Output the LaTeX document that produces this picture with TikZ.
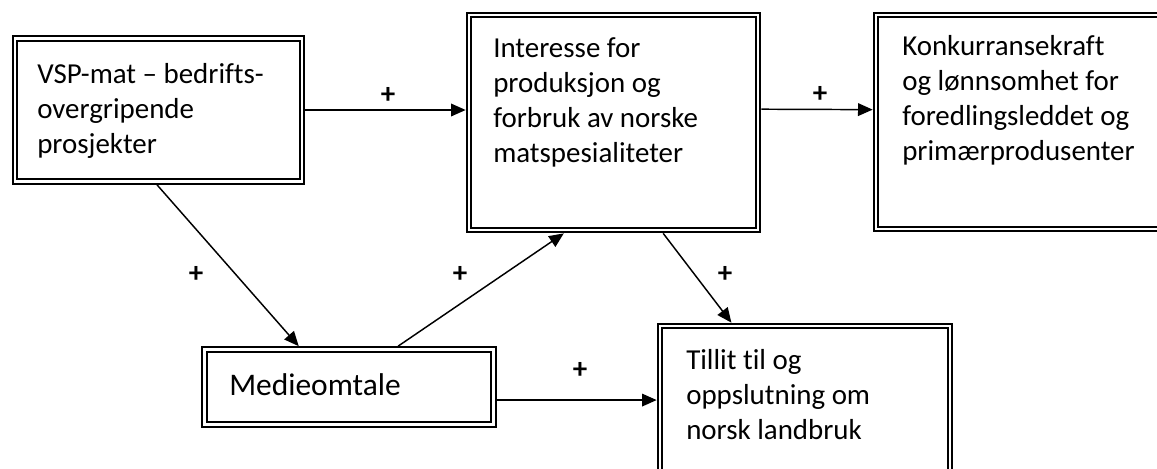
\documentclass[tikz,border=0pt]{standalone}
\usepackage{fontspec}
\setmainfont{Carlito}[Ligatures=NoCommon]
\usetikzlibrary{arrows.meta,calc}

\tikzset{
  dblbox/.style={draw, double, line width=1.5pt, double distance=2pt,
    outer sep=2.5pt, inner sep=0pt, rectangle},
  boxtext/.style={anchor=base west, align=left, inner sep=0pt,
    font=\fontsize{21.7}{26.25}\selectfont},
  plus/.style={inner sep=0pt, font=\fontsize{21.7}{26}\selectfont\bfseries},
  arr/.style={-{Triangle[length=11pt,width=9.5pt]}, line width=1.1pt},
}

\begin{document}
\begin{tikzpicture}[x=0.75pt,y=-0.75pt]
  \path[fill=white] (0,0) rectangle (1157,468);
  \clip (0,0) rectangle (1157,468);

  % boxes
  \node[dblbox, minimum width=215.25pt, minimum height=107.25pt] (b1) at (158.5,110) {};
  \node[dblbox, minimum width=216.75pt, minimum height=161.25pt] (b2) at (613.5,122.5) {};
  \node[dblbox, minimum width=231.75pt, minimum height=160.5pt] (b3) at (1030.5,122) {};
  \node[dblbox, minimum width=216.75pt, minimum height=56.25pt] (b4) at (349,387) {};
  \node[dblbox, minimum width=217.5pt, minimum height=130.5pt] (b5) at (805,413) {};

  % box texts (anchored at the baseline of the last line)
  \node[boxtext] (t1) at (37,153) {VSP-mat – bedrifts-\\overgripende\\prosjekter};
  \node[boxtext] (t2) at (493,162) {Interesse for\\produksjon og\\forbruk av norske\\matspesialiteter};
  \node[boxtext] (t3) at (902,160) {Konkurransekraft\\og lønnsomhet for\\foredlingsleddet og\\primærprodusenter};
  \node[boxtext, font=\fontsize{23.6}{28}\selectfont] (t4) at (229,395) {Medieomtale};
  \node[boxtext] (t5) at (686,439) {Tillit til og\\oppslutning om\\norsk landbruk};

  % connectors
  \draw[arr] (b1.east) -- (b1.east -| b2.west);
  \draw[arr] ($(b2.north east)!0.44!(b2.south east)$) -- ($(b3.north west)!0.444!(b3.south west)$);
  \draw[arr] ($(b1.south west)!0.495!(b1.south east)$) -- ($(b4.north west)!0.33!(b4.north east)$);
  \draw[arr] ($(b4.north west)!0.666!(b4.north east)$) -- ($(b2.south west)!0.332!(b2.south east)$);
  \draw[arr] ($(b2.south west)!0.668!(b2.south east)$) -- ($(b5.north west)!0.252!(b5.north east)$);
  \coordinate (m6) at ($(b4.north east)!0.66!(b4.south east)$);
  \draw[arr] (m6) -- (m6 -| b5.west);

  % signs
  \node[plus] (p1) at (388,95) {+};
  \node[plus] (p2) at (820,94) {+};
  \node[plus] (p3) at (196,274) {+};
  \node[plus] (p4) at (460,274) {+};
  \node[plus] (p5) at (725,274) {+};
  \node[plus] (p6) at (580,370) {+};
\end{tikzpicture}
\end{document}
